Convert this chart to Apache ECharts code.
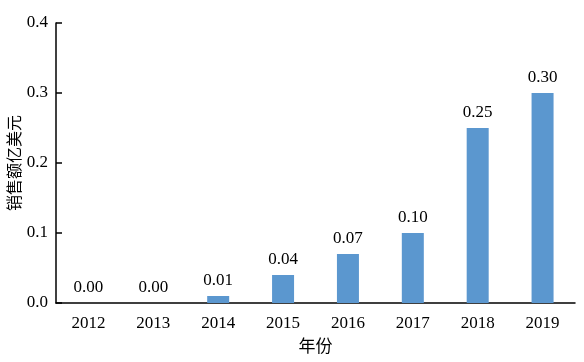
<!DOCTYPE html>
<html><head><meta charset="utf-8">
<script src="https://cdn.jsdelivr.net/npm/echarts@6/dist/echarts.min.js"></script>
<style>html,body{margin:0;padding:0;background:#fff}#c{width:584px;height:362px}</style>
</head><body><div id="c"></div>
<script>
const categories = ['2012','2013','2014','2015','2016','2017','2018','2019'];
const sales = [0.00, 0.00, 0.01, 0.04, 0.07, 0.10, 0.25, 0.30];
const yTicks = [0, 0.1, 0.2, 0.3, 0.4];
const serif = '"Liberation Serif","Times New Roman",serif';
const chart = echarts.init(document.getElementById('c'));
chart.setOption({
  animation:false,
  grid:{left:56,right:9,top:23,bottom:59,containLabel:false,outerBoundsMode:'none'},
  xAxis:{type:'category',data:categories,
    name:'年份',nameLocation:'middle',nameGap:34,nameMoveOverlap:false,
    nameTextStyle:{fontFamily:'"Noto Sans CJK SC"',fontSize:17,color:'#000'},
    axisLine:{lineStyle:{color:'#000',width:1.5}},
    axisTick:{inside:true,length:6,lineStyle:{color:'#000',width:1.5}},
    axisLabel:{fontFamily:serif,fontSize:17,color:'#000',margin:12}},
  yAxis:{type:'value',min:0,max:0.4,interval:0.1,
    name:'销售额亿美元',nameLocation:'middle',nameGap:34,nameMoveOverlap:false,
    nameTextStyle:{fontFamily:'"Noto Sans CJK SC"',fontSize:16,color:'#000'},
    axisLine:{show:true,lineStyle:{color:'#000',width:1.5}},
    axisTick:{show:true,inside:true,length:6,lineStyle:{color:'#000',width:1.5}},
    splitLine:{show:false},
    axisLabel:{fontFamily:serif,fontSize:17,color:'#000',margin:8,
      formatter:v=>v.toFixed(1)}},
  series:[{type:'bar',data:sales,barWidth:22,
    itemStyle:{color:'#5B97CF'},
    label:{show:true,position:'top',distance:7,fontFamily:serif,fontSize:17,color:'#000',
      formatter:p=>p.value.toFixed(2)}}]
});
</script></body></html>
